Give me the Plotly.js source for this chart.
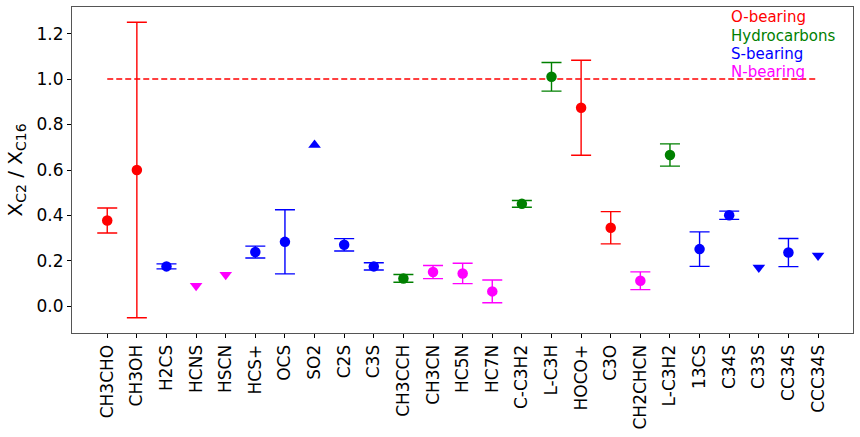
<!DOCTYPE html>
<html>
<head>
<meta charset="utf-8">
<script src="https://cdn.plot.ly/plotly-3.0.1.min.js"></script>
<style>html,body{margin:0;padding:0;background:#fff}#chart{width:860px;height:437px}</style>
</head>
<body>
<div id="chart"></div>
<script>
const categories = ["CH3CHO","CH3OH","H2CS","HCNS","HSCN","HCS+","OCS","SO2","C2S","C3S","CH3CCH","CH3CN","HC5N","HC7N","C-C3H2","L-C3H","HOCO+","C3O","CH2CHCN","L-C3H2","13CS","C34S","C33S","CC34S","CCC34S"];
// group: O, H (hydrocarbons), S, N
const groups = ["O","O","S","N","N","S","S","S","S","S","H","N","N","N","H","H","O","O","N","H","S","S","S","S","S"];
const values = [0.378,0.600,0.176,0.091,0.139,0.239,0.284,0.71,0.271,0.176,0.123,0.151,0.145,0.066,0.451,1.010,0.874,0.346,0.113,0.666,0.252,0.401,0.171,0.237,0.224];
const errors = [0.055,0.650,0.011,null,null,0.026,0.141,null,0.027,0.016,0.017,0.029,0.045,0.050,0.015,0.063,0.209,0.071,0.039,0.049,0.076,0.018,null,0.062,null];
// limit type: "" = detection, "upper" = upper limit, "lower" = lower limit
const limits = ["","","","upper","upper","","","lower","","","","","","","","","","","","","","","upper","","upper"];
const groupNames = {O:"O-bearing",H:"Hydrocarbons",S:"S-bearing",N:"N-bearing"};
const groupColors = {O:"#ff0000",H:"#008000",S:"#0000ff",N:"#ff00ff"};
const legendOrder = ["O","H","S","N"];
const refLevel = 1.0;

const traces = [];
traces.push({
  x:[categories[0],categories[categories.length-1]], y:[refLevel,refLevel],
  mode:"lines", line:{color:"#ff0000",width:1.4,dash:"6px,3px"}, hoverinfo:"skip", showlegend:false
});
legendOrder.forEach(g=>{
  const xs=[],ys=[],es=[];
  const xu=[],yu=[],xl=[],yl=[];
  categories.forEach((c,i)=>{
    if(groups[i]!==g) return;
    if(limits[i]==="upper"){xu.push(c);yu.push(values[i]);}
    else if(limits[i]==="lower"){xl.push(c);yl.push(values[i]);}
    else {xs.push(c);ys.push(values[i]);es.push(errors[i]);}
  });
  const col=groupColors[g];
  if(xs.length) traces.push({x:xs,y:ys,mode:"markers",type:"scatter",showlegend:false,
    marker:{color:col,size:10.5,symbol:"circle"},
    error_y:{type:"data",array:es,visible:true,color:col,thickness:1.4,width:10}});
  if(xu.length) traces.push({x:xu,y:yu,mode:"markers",type:"scatter",showlegend:false,
    marker:{color:col,size:11,symbol:"triangle-down"}});
  if(xl.length) traces.push({x:xl,y:yl,mode:"markers",type:"scatter",showlegend:false,
    marker:{color:col,size:11,symbol:"triangle-up"}});
});

const annotations = legendOrder.map((g,k)=>({
  xref:"paper",yref:"paper",x:(729-72)/(852.7-72),y:1-((17+18.3*k)-6.7)/(333.3-6.7),
  xanchor:"left",yanchor:"middle",showarrow:false,text:groupNames[g],
  font:{family:"DejaVu Sans",size:15,color:groupColors[g]}
}));

const layout = {
  width:860,height:437,
  margin:{l:72,r:7,t:7,b:104,pad:0},
  paper_bgcolor:"#fff",plot_bgcolor:"#fff",
  font:{family:"DejaVu Sans",size:17,color:"#000"},
  showlegend:false,
  xaxis:{type:"category",categoryorder:"array",categoryarray:categories,range:[-1.19,25.18],tickangle:-90,showgrid:false,zeroline:false,
    ticks:"outside",ticklen:4,tickcolor:"#000",showline:true,linecolor:"#555",linewidth:1,mirror:true,
    tickfont:{size:17,family:"DejaVu Sans"}},
  yaxis:{range:[-0.117,1.317],tickvals:[0,0.2,0.4,0.6,0.8,1.0,1.2],ticktext:["0.0","0.2","0.4","0.6","0.8","1.0","1.2"],
    showgrid:false,zeroline:false,ticks:"outside",ticklen:4,tickcolor:"#000",
    showline:true,linecolor:"#555",linewidth:1,mirror:true,tickfont:{size:17,family:"DejaVu Sans"},
    title:{text:"X<sub>C2</sub> / X<sub>C16</sub>",font:{size:20,family:"DejaVu Sans"},standoff:8}},
  annotations:annotations
};
Plotly.newPlot("chart",traces,layout,{displayModeBar:false,staticPlot:true});
</script>
</body>
</html>
